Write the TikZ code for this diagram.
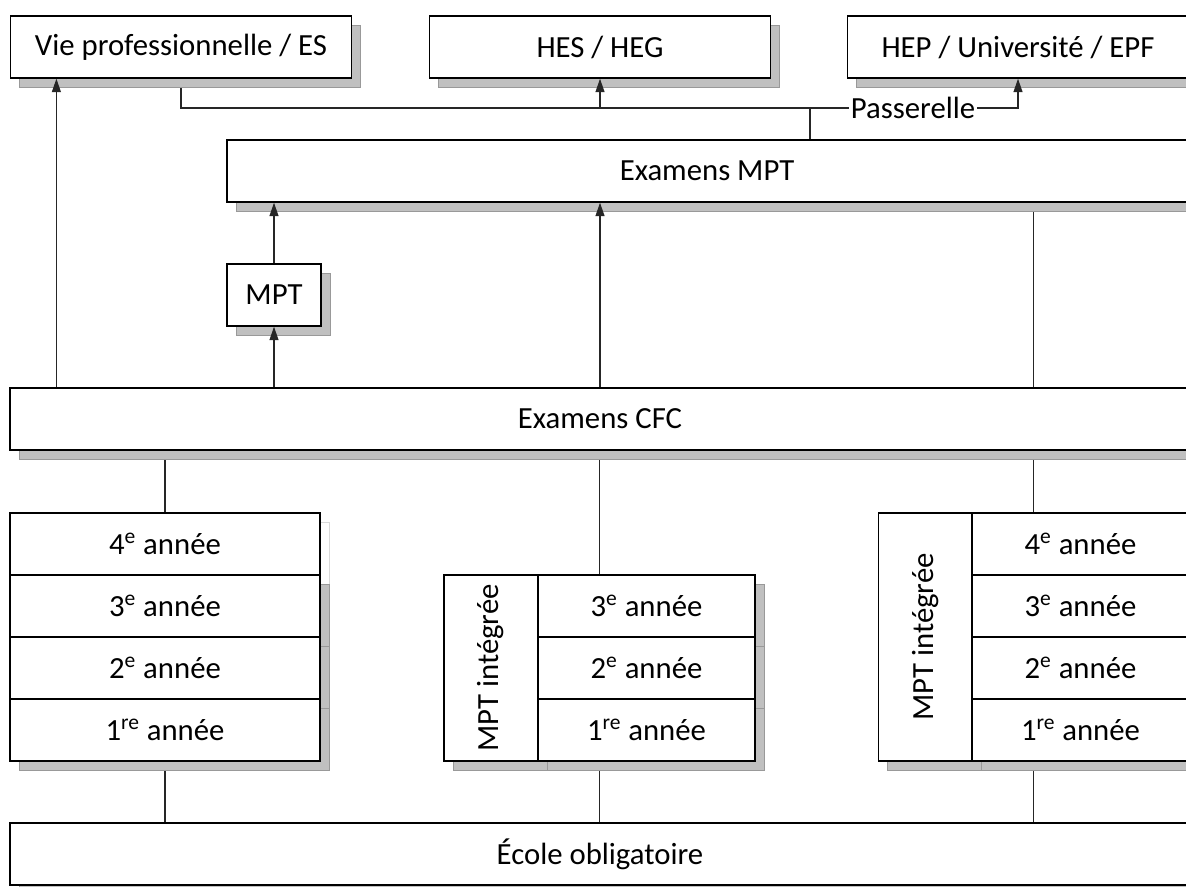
\documentclass[tikz,border=0pt]{standalone}
\usepackage{fontspec}
\setmainfont{Carlito}
\usetikzlibrary{arrows.meta,shadows,backgrounds,calc}
\definecolor{shade}{RGB}{192,192,192}
\tikzset{
  box/.style={draw=black, line width=0.8pt, fill=white, inner sep=0pt,
    drop shadow={shadow xshift=0.18cm, shadow yshift=-0.18cm, fill=shade, draw=black!40, line width=0.3pt, opacity=1}},
  link/.style={draw=black!85, line width=0.7pt},
  up/.style={link, -{Triangle[length=0.27cm,width=0.18cm]}}
}
\newcommand{\an}[2]{#1\textsuperscript{#2} année}
\begin{document}
\begin{tikzpicture}[x=0.02cm, y=-0.02cm, font=\fontsize{17.5}{21}\selectfont]
\useasboundingbox (0,0) rectangle (1186,886);
% sorties
\node[box, minimum width=6.82cm, minimum height=1.24cm] (vie) at (181,47) {Vie professionnelle / ES};
\node[box, minimum width=6.82cm, minimum height=1.24cm] (hes) at (600,47) {HES / HEG};
\node[box, minimum width=6.82cm, minimum height=1.24cm] (hep) at (1018,47) {HEP / Université / EPF};
\node[inner sep=1pt] (pass) at (913,108) {Passerelle};
% examens
\node[box, minimum width=19.2cm, minimum height=1.24cm] (exmpt) at (707,171) {Examens MPT};
\node[box, minimum width=1.88cm, minimum height=1.24cm] (mpt) at (274,295) {MPT};
\node[box, minimum width=23.6cm, minimum height=1.24cm] (excfc) at (600,419) {Examens CFC};
% filiere sans MPT
\begin{scope}[every node/.style={box, minimum width=6.2cm, minimum height=1.24cm}]
  \node[drop shadow={shadow xshift=0.18cm, shadow yshift=-0.18cm, fill=white, draw=black!15, line width=0.3pt, opacity=1}] (l4) at (165,544) {\an{4}{e}};
  \node (l3) at (165,606) {\an{3}{e}};
  \node (l2) at (165,668) {\an{2}{e}};
  \node (l1) at (165,730) {\an{1}{re}};
\end{scope}
% MPT integree, 3 ans
\node[box, minimum width=1.88cm, minimum height=3.72cm] (mi) at (491,668) {\rotatebox{90}{MPT intégrée}};
\begin{scope}[every node/.style={box, minimum width=4.34cm, minimum height=1.24cm}]
  \node (m3) at (646.5,606) {\an{3}{e}};
  \node (m2) at (646.5,668) {\an{2}{e}};
  \node (m1) at (646.5,730) {\an{1}{re}};
\end{scope}
% MPT integree, 4 ans
\node[box, minimum width=1.88cm, minimum height=4.96cm] (ri) at (925.5,637) {\rotatebox{90}{MPT intégrée}};
\begin{scope}[every node/.style={box, minimum width=4.34cm, minimum height=1.24cm}]
  \node (r4) at (1080.5,544) {\an{4}{e}};
  \node (r3) at (1080.5,606) {\an{3}{e}};
  \node (r2) at (1080.5,668) {\an{2}{e}};
  \node (r1) at (1080.5,730) {\an{1}{re}};
\end{scope}
\node[box, minimum width=23.6cm, minimum height=1.24cm] (ecole) at (600,854) {École obligatoire};
\coordinate (mtop) at ($(mi.north west)!0.5!(m3.north east)$);
\coordinate (mbot) at ($(mi.south west)!0.5!(m1.south east)$);
\coordinate (rtop) at ($(ri.north west)!0.5!(r4.north east)$);
\coordinate (rbot) at ($(ri.south west)!0.5!(r1.south east)$);
\coordinate (pj) at (810,108);
\coordinate (va) at ([xshift=0.94cm]excfc.north west);
\begin{scope}[on background layer]
  \draw[link] (vie.south) |- (pass.west);
  \draw[link] (pj) -- (pj |- exmpt.north);
  \draw[link] (rtop |- excfc.north) -- (rtop |- exmpt.south);
  \draw[link] (l4.north) -- (l4.north |- excfc.south);
  \draw[link] (mtop) -- (mtop |- excfc.south);
  \draw[link] (rtop) -- (rtop |- excfc.south);
  \draw[link] (l1.south) -- (l1.south |- ecole.north);
  \draw[link] (mbot) -- (mbot |- ecole.north);
  \draw[link] (rbot) -- (rbot |- ecole.north);
\end{scope}
\draw[up] (va) -- (va |- vie.south);
\draw[up] (pass.east) -| (hep.south);
\draw[up] (hes.south |- pass) -- (hes.south);
\draw[up] (excfc.north -| mpt.south) -- (mpt.south);
\draw[up] (mpt.north) -- (mpt.north |- exmpt.south);
\draw[up] (excfc.north) -- (excfc.north |- exmpt.south);
\end{tikzpicture}
\end{document}
